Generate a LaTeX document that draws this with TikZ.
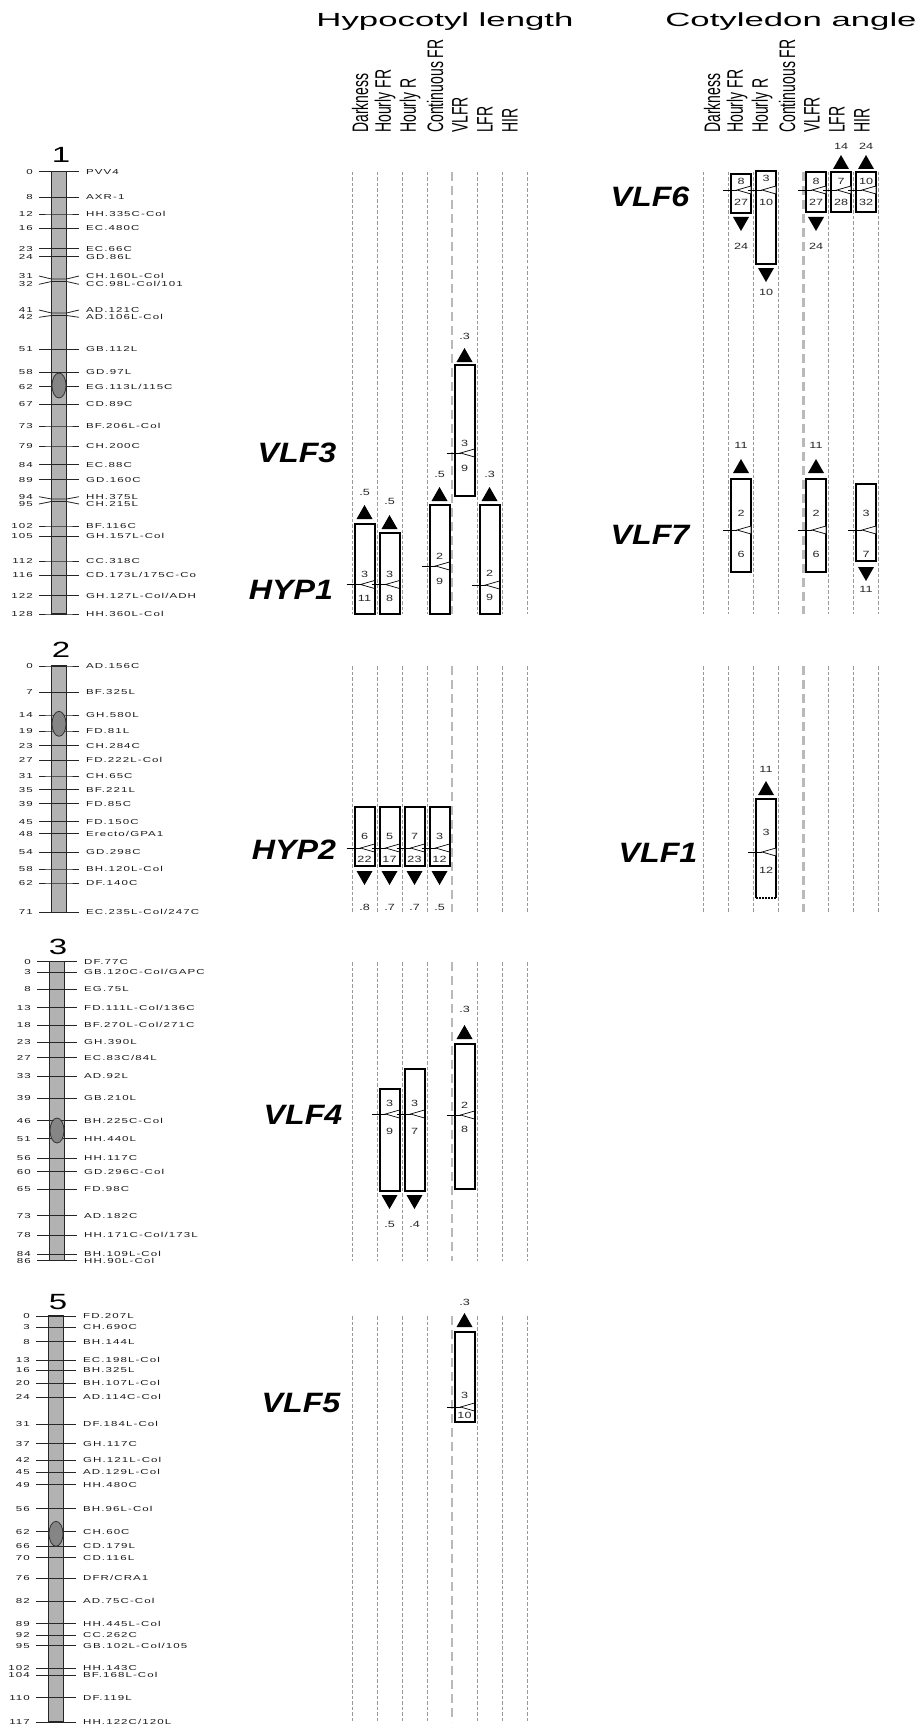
\documentclass[tikz,border=0pt]{standalone}
\usepackage{fontspec}
\usepackage{graphicx}
\setmainfont{Liberation Sans}
\newfontfamily\mkfont[FakeStretch=1.6,LetterSpace=15]{Liberation Sans}
\newfontfamily\ttlfont[FakeStretch=1.83]{Liberation Sans}
\newfontfamily\chfont[FakeStretch=1.5]{Liberation Sans}
\newfontfamily\qlfont[FakeStretch=1.15]{Liberation Sans}
\newfontfamily\nmfont[FakeStretch=1.4]{Liberation Sans}
\newcounter{nid}
\tikzset{
  mk/.style={font={\mkfont\fontsize{7.2}{8}\selectfont}, inner sep=0pt, text=black!90},
  ttl/.style={font={\ttlfont\fontsize{19}{21}\selectfont}, inner sep=0pt},
  chnum/.style={font={\chfont\fontsize{22}{24}\selectfont}, inner sep=0pt},
  rot/.style={font={\fontsize{14}{15}\selectfont}, inner sep=0pt, rotate=90, anchor=west},
  ql/.style={font={\qlfont\bfseries\itshape\fontsize{28}{30}\selectfont}, inner sep=0pt},
  qn/.style={font={\nmfont\fontsize{9}{10}\selectfont}, inner sep=0pt, text=black!85},
  thinline/.style={draw=gray!80, line width=0.7pt, dash pattern=on 3.5pt off 2pt},
  thickline/.style={draw=gray!55, line width=2.6pt, dash pattern=on 9pt off 5pt},
  qtl/.style={draw=black, line width=2pt, fill=white},
  tick/.style={draw=black!85, line width=0.8pt},
  chrfill/.style={fill=black!30},
  chredge/.style={draw=black!85, line width=1.3pt},
  cen/.style={draw=black!80, line width=0.8pt, fill=black!48},
  mrk/.style={draw=black, line width=0.7pt}
}
% chromosome helpers
\newcommand\mkr[4]{%
  \draw[tick] ({\chx-20},#1) -- ({\chx-7.5},#2) -- ({\chx+7.5},#2) -- ({\chx+20},#1);
  \stepcounter{nid}%
  \node[mk, anchor=mid east] (cm\arabic{nid}) at ({\chx-26},#1) {#3};
  \node[mk, anchor=mid west] (mn\arabic{nid}) at ({\chx+27},#1) {#4};}
\newcommand\mks[3]{\mkr{#1}{#1}{#2}{#3}}
\newcommand\chrbar[2]{\fill[chrfill] ({\chx-7.5},#1) rectangle ({\chx+7.5},#2);}
\newcommand\chrend[3]{%
  \draw[cen] (\chx,#3) ellipse [x radius=7pt, y radius=12.5pt];
  \draw[chredge] ({\chx-7.5},#1) rectangle ({\chx+7.5},#2);}
% grid of dashed lines
\newcommand\glines[3]{%
  \foreach \i in {0,1,2,3,5,6,7} {\draw[thinline] ({#1+25*\i},#2) -- ({#1+25*\i},#3);}
  \draw[thickline] ({#1+100},#2) -- ({#1+100},#3);}
% QTL helpers
\newcommand\qbox[3]{\draw[qtl] ({#1-10},#2) rectangle ({#1+10},#3);}
\newcommand\qmark[2]{%
  \draw[mrk] ({#1-18},#2) -- ({#1-4},#2);
  \draw[mrk, fill=white] ({#1-4},#2) -- ({#1+10},{#2-4}) -- ({#1+10},{#2+4}) -- cycle;}
\newcommand\tup[2]{\fill[black] (#1,#2) -- ({#1-8},{#2+14}) -- ({#1+8},{#2+14}) -- cycle;}
\newcommand\tdn[2]{\fill[black] ({#1-8},#2) -- ({#1+8},#2) -- (#1,{#2+14}) -- cycle;}
\newcommand\qn[3]{\stepcounter{nid}\node[qn] (q\arabic{nid}) at (#1,#2) {#3};}

\begin{document}
\begin{tikzpicture}[x=1pt, y=-1pt]
\useasboundingbox (0,0) rectangle (919,1728);
\fill[white] (0,0) rectangle (919,1728);

% titles
\node[ttl, anchor=base] (t1) at (445,27) {Hypocotyl length};
\node[ttl, anchor=base] (t2) at (791,27) {Cotyledon angle};

% column labels
\node[rot] (h1) at (360,133) {\scalebox{1}[1.6]{Darkness}};
\node[rot] (h2) at (385,133) {\scalebox{1}[1.6]{Hourly FR}};
\node[rot] (h3) at (410,133) {\scalebox{1}[1.6]{Hourly R}};
\node[rot] (h4) at (435,133) {\scalebox{1}[1.6]{Continuous FR}};
\node[rot] (h5) at (460,133) {\scalebox{1}[1.6]{VLFR}};
\node[rot] (h6) at (485,133) {\scalebox{1}[1.6]{LFR}};
\node[rot] (h7) at (510,133) {\scalebox{1}[1.6]{HIR}};
\node[rot] (c1) at (712,133) {\scalebox{1}[1.6]{Darkness}};
\node[rot] (c2) at (737,133) {\scalebox{1}[1.6]{Hourly FR}};
\node[rot] (c3) at (762,133) {\scalebox{1}[1.6]{Hourly R}};
\node[rot] (c4) at (787,133) {\scalebox{1}[1.6]{Continuous FR}};
\node[rot] (c5) at (812,133) {\scalebox{1}[1.6]{VLFR}};
\node[rot] (c6) at (837,133) {\scalebox{1}[1.6]{LFR}};
\node[rot] (c7) at (862,133) {\scalebox{1}[1.6]{HIR}};

% dashed grids
\glines{352}{172}{614}
\glines{703.5}{172}{614}
\glines{352}{666}{912}
\glines{703.5}{666}{912}
\glines{352}{962}{1261}
\glines{352}{1316}{1722}

% ---------------- chromosome 1
\def\chx{59}
\node[chnum] (n1) at (61,155) {1};
\chrbar{171.7}{614}
\mks{171.7}{0}{PVV4}
\mks{197.3}{8}{AXR-1}
\mks{214}{12}{HH.335C-Col}
\mks{228.3}{16}{EC.480C}
\mks{248.7}{23}{EC.66C}
\mks{256.7}{24}{GD.86L}
\mkr{276}{279}{31}{CH.160L-Col}
\mkr{284.3}{281.5}{32}{CC.98L-Col/101}
\mkr{310}{313}{41}{AD.121C}
\mkr{317.3}{315.5}{42}{AD.106L-Col}
\mks{349.3}{51}{GB.112L}
\mks{372.3}{58}{GD.97L}
\mks{386.7}{62}{EG.113L/115C}
\mks{404.3}{67}{CD.89C}
\mks{426}{73}{BF.206L-Col}
\mks{446}{79}{CH.200C}
\mks{464.7}{84}{EC.88C}
\mks{479.7}{89}{GD.160C}
\mkr{496.7}{499}{94}{HH.375L}
\mkr{504}{501.5}{95}{CH.215L}
\mks{526}{102}{BF.116C}
\mks{536.3}{105}{GH.157L-Col}
\mks{561}{112}{CC.318C}
\mks{575.3}{116}{CD.173L/175C-Co}
\mks{595.7}{122}{GH.127L-Col/ADH}
\mks{614}{128}{HH.360L-Col}
\chrend{171.7}{614}{385.5}

% ---------------- chromosome 2
\def\chx{59}
\node[chnum] (n2) at (61,650) {2};
\chrbar{666}{912.3}
\mks{666}{0}{AD.156C}
\mks{692.3}{7}{BF.325L}
\mks{715}{14}{GH.580L}
\mks{731}{19}{FD.81L}
\mks{745.7}{23}{CH.284C}
\mks{760.3}{27}{FD.222L-Col}
\mks{776}{31}{CH.65C}
\mks{789.7}{35}{BF.221L}
\mks{803.7}{39}{FD.85C}
\mks{821.7}{45}{FD.150C}
\mks{833.7}{48}{Erecto/GPA1}
\mks{852.3}{54}{GD.298C}
\mks{869}{58}{BH.120L-Col}
\mks{883}{62}{DF.140C}
\mks{912.3}{71}{EC.235L-Col/247C}
\chrend{666}{912.3}{723.8}

% ---------------- chromosome 3
\def\chx{57}
\node[chnum] (n3) at (58,947) {3};
\chrbar{961.7}{1260.7}
\mks{961.7}{0}{DF.77C}
\mks{972.3}{3}{GB.120C-Col/GAPC}
\mks{989.3}{8}{EG.75L}
\mks{1007.7}{13}{FD.111L-Col/136C}
\mks{1025}{18}{BF.270L-Col/271C}
\mks{1042.3}{23}{GH.390L}
\mks{1057.7}{27}{EC.83C/84L}
\mks{1076.3}{33}{AD.92L}
\mks{1098}{39}{GB.210L}
\mks{1120.7}{46}{BH.225C-Col}
\mks{1138.7}{51}{HH.440L}
\mks{1158}{56}{HH.117C}
\mks{1171.7}{60}{GD.296C-Col}
\mks{1189.3}{65}{FD.98C}
\mks{1215.7}{73}{AD.182C}
\mks{1235.3}{78}{HH.171C-Col/173L}
\mks{1254}{84}{BH.109L-Col}
\mks{1260.7}{86}{HH.90L-Col}
\chrend{961.7}{1260.7}{1130.5}

% ---------------- chromosome 5
\def\chx{56}
\node[chnum] (n5) at (58,1302) {5};
\chrbar{1316}{1722}
\mks{1316}{0}{FD.207L}
\mks{1327.3}{3}{CH.690C}
\mks{1341.7}{8}{BH.144L}
\mks{1360}{13}{EC.198L-Col}
\mks{1370}{16}{BH.325L}
\mks{1383.3}{20}{BH.107L-Col}
\mks{1397.3}{24}{AD.114C-Col}
\mks{1424.3}{31}{DF.184L-Col}
\mks{1443.7}{37}{GH.117C}
\mks{1460.3}{42}{GH.121L-Col}
\mks{1472.3}{45}{AD.129L-Col}
\mks{1484.7}{49}{HH.480C}
\mks{1508.7}{56}{BH.96L-Col}
\mks{1531.7}{62}{CH.60C}
\mks{1546.3}{66}{CD.179L}
\mks{1557.7}{70}{CD.116L}
\mks{1578}{76}{DFR/CRA1}
\mks{1601.3}{82}{AD.75C-Col}
\mks{1623.7}{89}{HH.445L-Col}
\mks{1635.3}{92}{CC.262C}
\mks{1645.7}{95}{GB.102L-Col/105}
\mks{1668.3}{102}{HH.143C}
\mks{1675}{104}{BF.168L-Col}
\mks{1697.7}{110}{DF.119L}
\mks{1722}{117}{HH.122C/120L}
\chrend{1316}{1722}{1533.8}

% ---------------- QTL labels
\node[ql] (vlf6) at (650,197) {VLF6};
\node[ql] (vlf3) at (297,453) {VLF3};
\node[ql] (vlf7) at (650,535) {VLF7};
\node[ql] (hyp1) at (291,590) {HYP1};
\node[ql] (hyp2) at (294,850) {HYP2};
\node[ql] (vlf1) at (658,853) {VLF1};
\node[ql] (vlf4) at (303,1115) {VLF4};
\node[ql] (vlf5) at (301,1403) {VLF5};

% HYP1
\qbox{364.5}{524}{614} \tup{364.5}{505} \qn{364.5}{492}{.5} \qn{364.5}{574}{3} \qmark{364.5}{584.5} \qn{364.5}{598}{11}
\qbox{389.5}{533}{614} \tup{389.5}{515} \qn{389.5}{501}{.5} \qn{389.5}{574}{3} \qmark{389.5}{584.5} \qn{389.5}{598}{8}
\qbox{439.5}{505}{614} \tup{439.5}{487} \qn{439.5}{474}{.5} \qn{439.5}{556}{2} \qmark{439.5}{566} \qn{439.5}{581}{9}
\qbox{489.5}{505}{614} \tup{489.5}{487} \qn{489.5}{474}{.3} \qn{489.5}{573}{2} \qmark{489.5}{585} \qn{489.5}{597}{9}
% VLF3
\qbox{464.5}{365}{496} \tup{464.5}{348} \qn{464.5}{336}{.3} \qn{464.5}{443}{3} \qmark{464.5}{453} \qn{464.5}{468}{9}

% VLF6
\qbox{741}{174}{213} \qn{741}{181}{8} \qmark{741}{190} \qn{741}{202}{27} \tdn{741}{217} \qn{741}{246}{24}
\qbox{766}{171}{264} \qn{766}{178}{3} \qmark{766}{190} \qn{766}{202}{10} \tdn{766}{268} \qn{766}{292}{10}
\qbox{816}{172}{212} \qn{816}{181}{8} \qmark{816}{190} \qn{816}{202}{27} \tdn{816}{217} \qn{816}{246}{24}
\qbox{841}{172}{212} \qn{841}{181}{7} \qmark{841}{190} \qn{841}{202}{28} \tup{841}{155} \qn{841}{146}{14}
\qbox{866}{172}{212} \qn{866}{181}{10} \qmark{866}{190} \qn{866}{202}{32} \tup{866}{155} \qn{866}{146}{24}

% VLF7
\qbox{741}{479}{572} \tup{741}{459} \qn{741}{445}{11} \qn{741}{513}{2} \qmark{741}{530} \qn{741}{554}{6}
\qbox{816}{479}{572} \tup{816}{459} \qn{816}{445}{11} \qn{816}{513}{2} \qmark{816}{530} \qn{816}{554}{6}
\qbox{866}{484}{561} \qn{866}{513}{3} \qmark{866}{530} \qn{866}{554}{7} \tdn{866}{567} \qn{866}{589}{11}

% HYP2
\qbox{364.5}{807}{866} \qn{364.5}{836}{6} \qmark{364.5}{848} \qn{364.5}{859}{22} \tdn{364.5}{871} \qn{364.5}{907}{.8}
\qbox{389.5}{807}{866} \qn{389.5}{836}{5} \qmark{389.5}{848} \qn{389.5}{859}{17} \tdn{389.5}{871} \qn{389.5}{907}{.7}
\qbox{414.5}{807}{866} \qn{414.5}{836}{7} \qmark{414.5}{848} \qn{414.5}{859}{23} \tdn{414.5}{871} \qn{414.5}{907}{.7}
\qbox{439.5}{807}{866} \qn{439.5}{836}{3} \qmark{439.5}{848} \qn{439.5}{859}{12} \tdn{439.5}{871} \qn{439.5}{907}{.5}

% VLF1
\fill[white] (756,799) rectangle (776,898);
\draw[qtl, fill=none] (756,898) -- (756,799) -- (776,799) -- (776,898);
\draw[black, line width=2pt, dash pattern=on 1.5pt off 1.5pt] (756,898) -- (776,898);
\tup{766}{781} \qn{766}{769}{11} \qn{766}{832}{3} \qmark{766}{852} \qn{766}{870}{12}

% VLF4
\qbox{389.5}{1089}{1191} \tdn{389.5}{1195} \qn{389.5}{1224}{.5} \qn{389.5}{1103}{3} \qmark{389.5}{1114} \qn{389.5}{1131}{9}
\qbox{414.5}{1069}{1191} \tdn{414.5}{1195} \qn{414.5}{1224}{.4} \qn{414.5}{1103}{3} \qmark{414.5}{1114} \qn{414.5}{1131}{7}
\qbox{464.5}{1044}{1189} \tup{464.5}{1025} \qn{464.5}{1009}{.3} \qn{464.5}{1105}{2} \qmark{464.5}{1115} \qn{464.5}{1129}{8}

% VLF5
\qbox{464.5}{1332}{1422} \tup{464.5}{1313} \qn{464.5}{1302}{.3} \qn{464.5}{1395}{3} \qmark{464.5}{1407} \qn{464.5}{1415.5}{10}
\end{tikzpicture}
\end{document}
